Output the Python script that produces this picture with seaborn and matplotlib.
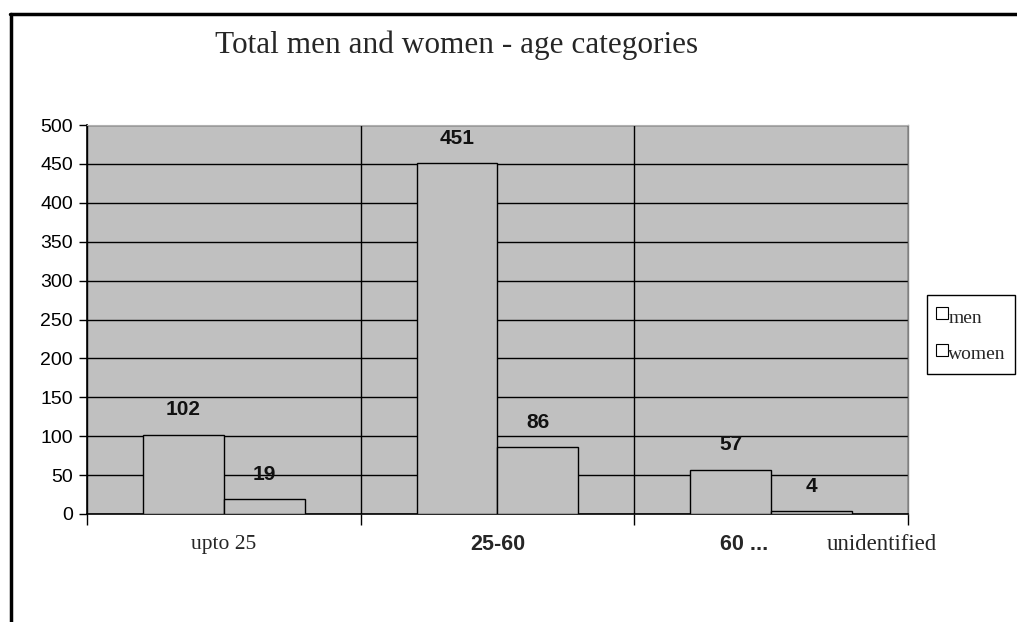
import matplotlib
matplotlib.use("Agg")
import matplotlib.pyplot as plt
import seaborn as sns
import pandas as pd
from matplotlib.lines import Line2D
from matplotlib.transforms import blended_transform_factory

# Data
categories = ["upto 25", "25-60", "60 ... unidentified"]
series = ["men", "women"]
men = [102, 451, 57]
women = [19, 86, 4]
y_ticks = [0, 50, 100, 150, 200, 250, 300, 350, 400, 450, 500]
title = "Total men and women - age categories"

df = pd.DataFrame({
    "age": categories * 2,
    "count": men + women,
    "sex": [series[0]] * len(men) + [series[1]] * len(women),
})

sns.set_theme(style="white")
plt.rcParams["font.family"] = ["Liberation Sans", "DejaVu Sans"]
SERIF = ["Liberation Serif", "DejaVu Serif"]

W, H = 1017, 622
fig = plt.figure(figsize=(W / 100, H / 100), dpi=100)
fig.patch.set_facecolor("white")

ax = fig.add_axes([87 / W, 1 - 514 / H, (908 - 87) / W, (514 - 125) / H])
gray = "#c0c0c0"
ax.set_facecolor(gray)

sns.barplot(data=df, x="age", y="count", hue="sex", order=categories,
            hue_order=series, palette=[gray, gray], saturation=1,
            width=0.59, gap=0, edgecolor="black", linewidth=1,
            legend=False, ax=ax, zorder=3)

for cont in ax.containers:
    ax.bar_label(cont, fmt="%d", padding=11, fontsize=15,
                 fontweight="bold", color="#111111", zorder=6)

# Axes, ticks and grid
ax.set_xlim(-0.5, len(categories) - 0.5)
ax.set_ylim(0, 500)
ax.set_yticks(y_ticks)
ax.set_yticklabels([str(v) for v in y_ticks], fontsize=14, color="black")
bounds = [i - 0.5 for i in range(len(categories) + 1)]
ax.set_xticks(bounds)
ax.set_xticklabels([""] * len(bounds))
ax.set_xlabel("")
ax.set_ylabel("")
ax.grid(axis="y", color="black", linewidth=1)
ax.grid(axis="x", color="black", linewidth=1)
ax.set_axisbelow(True)
ax.tick_params(axis="y", left=True, direction="out", length=6, width=1,
               color="black", pad=4)
ax.tick_params(axis="x", bottom=True, direction="out", length=8, width=1,
               color="black")

for side in ("left", "bottom"):
    ax.spines[side].set_color("black")
    ax.spines[side].set_linewidth(1.2)
ax.spines["right"].set_color("#808080")
ax.spines["right"].set_linewidth(1)
ax.spines["top"].set_color("#b0b0b0")
ax.spines["top"].set_linewidth(0.8)

# Category names under the axis
tr = blended_transform_factory(ax.transData, fig.transFigure)
ylab = 1 - 545 / H
ax.text(0, ylab, "upto 25", transform=tr, ha="center", va="center",
        fontsize=15.5, family=SERIF)
ax.text(1, ylab, "25-60", transform=tr, ha="center", va="center",
        fontsize=15.5, fontweight="bold")
ax.text(1.9, ylab, "60 ...", transform=tr, ha="center", va="center",
        fontsize=15.5, fontweight="bold")
fig.text(882 / W, ylab, "unidentified", ha="center", va="center",
         fontsize=16.5, family=SERIF)

# Title
fig.text(457 / W, 1 - 45 / H, title, ha="center", va="center",
         fontsize=22.5, family=SERIF)

# Legend with hollow square keys
handles = [Line2D([], [], linestyle="none", marker="s", markersize=8,
                  markerfacecolor="white", markeredgecolor="black",
                  markeredgewidth=0.8) for _ in series]
leg = fig.legend(handles, series, loc="upper left",
                 bbox_to_anchor=(927 / W, 1 - 295 / H),
                 prop={"family": SERIF, "size": 14},
                 frameon=True, fancybox=False, framealpha=1,
                 edgecolor="black", borderpad=0.45, labelspacing=0.55,
                 handlelength=0.6, handleheight=1.65, handletextpad=0.05,
                 borderaxespad=0)
leg.get_frame().set_linewidth(1)
fig.text(990 / W, 1 - 302 / H, "¨", ha="center", va="center",
         fontsize=10, family=SERIF)

# Slide frame
fig.add_artist(Line2D([11 / W, 11 / W], [0, 1 - 14 / H],
                      transform=fig.transFigure, color="black", linewidth=2.5))
fig.add_artist(Line2D([10 / W, 1], [1 - 14 / H, 1 - 14 / H],
                      transform=fig.transFigure, color="black", linewidth=2.5))

fig.savefig("out.png", dpi=100)
